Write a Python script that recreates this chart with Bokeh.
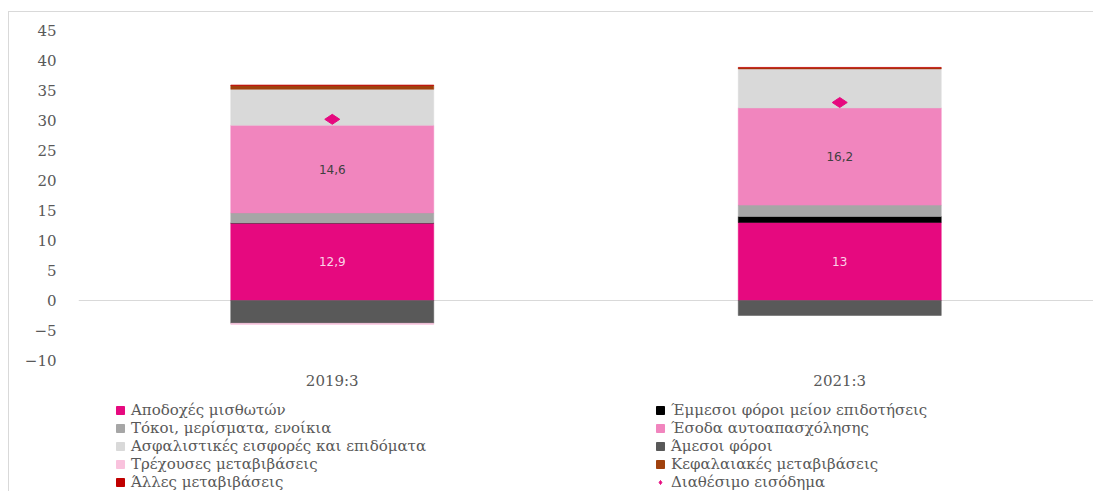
from bokeh.plotting import figure
from bokeh.models import ColumnDataSource, Span, Legend, FactorRange
from bokeh.layouts import column
from bokeh.embed import file_html
from bokeh.resources import INLINE
from bokeh.core.properties import value
import math

periods = ["2019:3", "2021:3"]

series_names = [
    "Αποδοχές μισθωτών",
    "Έμμεσοι φόροι μείον επιδοτήσεις",
    "Τόκοι, μερίσματα, ενοίκια",
    "Έσοδα αυτοαπασχόλησης",
    "Ασφαλιστικές εισφορές και επιδόματα",
    "Άμεσοι φόροι",
    "Τρέχουσες μεταβιβάσεις",
    "Κεφαλαιακές μεταβιβάσεις",
    "Άλλες μεταβιβάσεις",
]
wages = [12.9, 13.0]
indirect_taxes = [0.0, 1.0]
interest_dividends = [1.7, 1.9]
self_employment = [14.6, 16.2]
social_contrib = [6.0, 6.5]
direct_taxes = [-3.8, -2.5]
current_transfers = [-0.2, 0.0]
capital_transfers = [0.65, 0.15]
other_transfers = [0.05, 0.1]
disposable_income = [30.2, 33.0]
income_label = "Διαθέσιμο εισόδημα"

series_values = [wages, indirect_taxes, interest_dividends, self_employment,
                 social_contrib, direct_taxes, current_transfers,
                 capital_transfers, other_transfers]
colors = ["#E6097F", "#000000", "#A6A6A6", "#F185BE", "#D9D9D9",
          "#595959", "#F9C2DD", "#A0410D", "#C00000"]
labelled = {"Αποδοχές μισθωτών": "#FBD3E7", "Έσοδα αυτοαπασχόλησης": "#404040"}

FONT = "DejaVu Serif"
TXT = "#595959"
MAG = "#E6097F"

p = figure(x_range=FactorRange(*periods, range_padding=0), y_range=(-10, 45),
           width=1093, height=393, output_backend="svg", toolbar_location=None,
           min_border_top=30, min_border_left=78, min_border_right=0,
           min_border_bottom=33)
p.outline_line_color = None
p.xgrid.grid_line_color = None
p.ygrid.grid_line_color = None
p.border_fill_color = None
p.background_fill_color = None

p.add_layout(Span(location=0, dimension="width", line_color="#D9D9D9",
                  line_width=1, level="underlay"))

pos = [0.0] * len(periods)
neg = [0.0] * len(periods)
label_src = {"x": [], "y": [], "t": [], "c": []}
for name, vals, col in zip(series_names, series_values, colors):
    tops, bots = [], []
    for i, v in enumerate(vals):
        if v >= 0:
            bots.append(pos[i]); tops.append(pos[i] + v); pos[i] += v
        else:
            tops.append(neg[i]); bots.append(neg[i] + v); neg[i] += v
    src = ColumnDataSource(dict(x=periods, top=tops, bottom=bots))
    p.vbar(x="x", top="top", bottom="bottom", width=0.4, source=src,
           fill_color=col, line_color=col, line_width=0.5)
    if name in labelled:
        for i, v in enumerate(vals):
            label_src["x"].append(periods[i])
            label_src["y"].append((tops[i] + bots[i]) / 2)
            label_src["t"].append(("%g" % v).replace(".", ","))
            label_src["c"].append(labelled[name])

lsrc = ColumnDataSource(label_src)
p.text(x="x", y="y", text="t", source=lsrc, text_color="c",
       text_align="center", text_baseline="middle",
       text_font=value("DejaVu Sans"), text_font_size="12px")

p.scatter(x=periods, y=disposable_income, marker="diamond", size=15,
          angle=math.pi / 2, fill_color=MAG, line_color=MAG)

p.yaxis.ticker = list(range(-10, 50, 5))
for ax in (p.xaxis[0], p.yaxis[0]):
    ax.axis_line_color = None
    ax.major_tick_line_color = None
    ax.minor_tick_line_color = None
    ax.major_label_text_font = FONT
    ax.major_label_text_font_size = "15px"
    ax.major_label_text_color = TXT
p.yaxis.major_label_standoff = 16
p.xaxis.major_label_standoff = 5

# legend panel (separate figure below the chart); its renderers sit outside
# its visible range and exist only to give the legend its swatches
lf = figure(width=1093, height=98, x_range=(0, 1), y_range=(0, 1),
            output_backend="svg", toolbar_location=None,
            min_border=0, min_border_left=0, min_border_right=0,
            min_border_top=0, min_border_bottom=0)
lf.axis.visible = False
lf.grid.visible = False
lf.outline_line_color = None
lf.border_fill_color = None
lf.background_fill_color = None

items = []
for name, col in zip(series_names, colors):
    r = lf.vbar(x=[-5], top=[-5], bottom=[-6], width=0.4,
                fill_color=col, line_color=col)
    items.append((name, [r]))
rs = lf.scatter(x=[-5], y=[-5], marker="diamond", size=11, angle=math.pi / 2,
                fill_color=MAG, line_color=MAG)
items.append((income_label, [rs]))


def make_legend(its, x):
    lg = Legend(items=its, location=(x, 0))
    lg.label_text_font = FONT
    lg.label_text_font_size = "15px"
    lg.label_text_color = TXT
    lg.label_height = 17
    lg.glyph_height = 10
    lg.glyph_width = 10
    lg.label_standoff = 6
    lg.spacing = 0
    lg.padding = 0
    lg.margin = 0
    lg.border_line_color = None
    lg.background_fill_alpha = 0
    return lg


lf.add_layout(make_legend(items[0::2], 37))
lf.add_layout(make_legend(items[1::2], 577))

frame_lines = ("linear-gradient(#D9D9D9, #D9D9D9) 8px 11px / 1px 100% no-repeat, "
               "linear-gradient(#D9D9D9, #D9D9D9) 8px 11px / 100% 1px no-repeat, #FFFFFF")
layout = column(p, lf, spacing=0, styles={"background": frame_lines})

open("out.html", "w").write(file_html(layout, INLINE))
